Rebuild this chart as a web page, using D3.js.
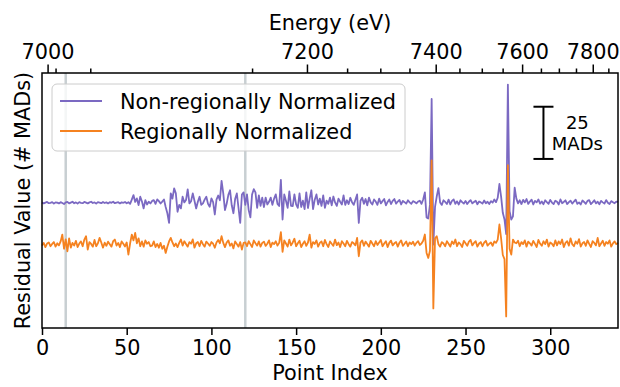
<!DOCTYPE html>
<html>
<head>
<meta charset="utf-8">
<script src="https://cdn.jsdelivr.net/npm/d3@7"></script>
<style>
  body { margin: 0; background: #fff; }
  text { font-family: "DejaVu Sans", sans-serif; fill: #000; }
</style>
</head>
<body>
<div id="chart"></div>
<script>
// residuals in MADs, one value per point index (0..340)
const nonRegional = [
  0.2, -0.3, 0.1, 0.4, -0.2, 0.0, 0.3, -0.4, 0.2, 0.1,
  -0.3, 0.3, -0.1, -0.6, 0.2, 0.4, -0.3, 0.1, 0.5, -0.2,
  0.2, -0.4, 0.3, 0.0, -0.2, 0.4, 0.1, -0.3, 0.2, 0.5,
  -0.1, 0.2, -0.4, 0.3, 0.1, -0.2, 0.4, -0.1, 0.2, -0.3,
  0.3, 0.0, 0.5, -0.2, 0.1, 0.3, -0.3, 0.2, 0.0, 0.4,
  -0.2, 0.3, -0.5, 1.5, 3.7, 0.4, 2.1, -1.1, 2.9, 0.6,
  -2.7, 1.3, -0.8, 0.5, -0.3, 0.9, 1.3, -0.5, 1.6, 0.8,
  -0.3, 0.6, 1.6, -2.0, -5.0, -9.6, 4.5, 2.0, 6.9, 4.5,
  -4.3, -1.0, -2.7, 2.9, 0.2, 1.3, 6.4, -0.3, 0.8, 4.5,
  1.0, -2.7, 0.5, 2.9, -1.0, -0.3, 1.5, 2.9, -0.5, -1.9,
  2.1, 0.3, -5.6, 1.5, 3.5, 1.2, 10.5, 4.5, -3.5, -0.5,
  3.8, 6.0, -1.2, -5.0, 1.8, 4.5, -2.5, -9.6, 4.0, 5.0,
  -1.0, 4.0, -3.5, -7.0, 4.0, 6.5, 5.0, -2.4, 3.5, -1.5,
  2.5, -2.0, 2.5, -0.8, 0.5, 2.5, -1.0, 2.0, 4.0, -0.5,
  -1.5, 11.0, -8.0, 4.0, 1.0, -2.4, 5.5, -1.5, -1.6, 4.0,
  -0.8, -2.4, 4.5, -2.0, 1.0, -3.0, 5.0, -2.5, 2.0, 6.0,
  -3.0, 1.5, 4.0, -0.8, 2.0, -1.5, 3.5, -2.4, 1.0, -0.5,
  2.5, -1.2, 3.0, 0.2, -1.5, 2.0, 0.5, -0.8, 3.5, -1.0,
  1.2, -0.6, 2.4, 0.3, -1.0, 1.5, 4.0, -9.6, 1.0, 2.4,
  -0.5, 1.8, -1.2, 2.5, 0.2, -0.8, 1.6, 0.6, -1.0, 2.0,
  -0.3, 0.8, 1.8, -1.2, 0.4, 1.6, -0.6, 0.9, 1.8, -0.4,
  0.6, 1.4, -0.8, 0.9, 0.3, -0.4, 1.2, 0.2, -0.5, 0.8,
  0.4, -0.3, 0.6, 1.0, -0.5, 1.6, 5.0, -7.0, -7.5, -1.0,
  49.7, -20.0, -2.0, 3.0, 7.0, 0.2, -1.0, 1.2, 0.4, -0.6,
  1.5, -0.8, 0.9, 1.6, -0.5, 0.7, -0.8, 1.2, 0.3, -0.4,
  0.9, -0.6, 0.5, 1.3, -0.3, 0.4, 1.0, -0.7, 0.6, 0.2,
  -0.4, 1.1, -0.2, 0.5, -0.6, 0.8, 0.1, 1.6, 0.3, 2.4,
  9.0, 3.0, -4.8, -8.0, -15.0, 56.6, -4.0, -8.0, -6.5, 7.2,
  2.0, -0.3, 1.2, -0.6, 1.4, 0.2, 1.8, -0.5, 0.6, 1.5,
  -0.8, 0.9, 0.2, 1.6, -0.4, 0.6, -0.7, 1.2, 0.3, -0.5,
  1.4, 0.1, -0.6, 1.0, 0.5, -0.8, 1.6, -0.2, 0.4, 1.2,
  -0.6, 0.3, 1.0, -0.4, 0.6, 1.5, -0.5, 0.2, -0.8, 1.1,
  0.4, -0.5, 0.9, 1.3, -0.6, 0.2, 1.2, -0.3, 0.5, -0.7,
  0.9, 0.2, -0.4, 1.3, 0.0, -0.6, 0.8, 0.3, -0.2, 0.6,
  0.4
];
const regional = [
  -0.5, 0.8, -1.2, 0.5, 1.0, -0.8, 0.3, 1.2, -1.0, 0.6,
  -0.4, 1.5, 4.8, -2.0, 2.5, -3.2, 3.0, -1.5, 0.8, -0.5,
  1.8, -1.2, 0.5, 1.5, -0.8, 2.4, 4.0, -2.4, 1.2, 0.3,
  -1.0, 2.2, -0.8, 0.6, 3.2, 1.0, -1.5, 0.9, -0.6, 1.4,
  0.2, -1.0, 1.6, 2.4, -0.5, 0.8, -1.2, 1.5, 0.4, -0.9,
  1.0, -4.8, 0.5, 4.8, 2.0, 5.6, 0.6, 3.0, -0.8, 1.5,
  -1.0, 2.0, 0.4, 1.2, -0.8, -0.5, 1.5, -1.2, 0.3, -1.5,
  0.8, -2.0, -0.6, -4.0, -1.0, 1.5, 3.2, 1.0, -0.8, 0.5,
  -1.2, 0.8, 2.4, -0.5, 1.6, 0.3, -1.0, 1.2, 0.4, 2.5,
  -1.5, 0.6, 1.2, -0.8, 1.8, 0.2, -1.0, 1.4, 0.5, -0.6,
  1.2, 0.4, -1.5, 1.0, 2.2, 0.6, 4.0, 0.8, -1.2, 1.0,
  2.0, -0.6, 0.5, -1.8, 1.5, 0.3, -1.0, 1.2, -2.4, 0.8,
  1.0, -0.8, 1.6, 0.2, -1.2, 2.0, 0.6, -0.5, 1.5, -1.0,
  0.8, 1.4, -0.6, 0.4, 2.0, -1.2, 0.9, 0.2, 1.6, -0.5,
  0.8, 6.0, -3.5, 2.0, 0.5, -1.0, 2.4, -0.4, 1.0, 2.8,
  -0.8, 0.6, 1.8, -1.2, 0.4, 1.6, -0.6, 1.0, 4.8, -1.5,
  1.2, 0.3, 2.0, -1.0, 0.8, 1.5, -0.8, 2.2, 0.2, -1.2,
  1.5, 0.4, -0.6, 2.4, -0.3, 1.0, -1.2, 1.6, 0.5, -0.8,
  1.8, 0.2, -1.0, 1.2, 0.6, -0.4, 3.2, -5.6, 1.0, 2.0,
  -0.6, 1.4, 0.3, -1.0, 1.8, 0.5, -0.8, 1.6, -0.2, 1.0,
  2.2, -0.8, 0.5, 1.6, -1.2, 0.8, 1.9, -0.4, 0.6, 1.2,
  -1.0, 0.9, 2.0, -0.6, 0.4, 1.5, -0.8, 1.0, 0.2, 1.4,
  -0.5, 0.8, 1.6, -0.2, 0.5, 1.8, 4.8, -4.0, -6.4, -3.0,
  40.3, -30.6, 3.0, 4.0, 0.2, -1.0, 1.2, 0.5, -0.8, 1.6,
  0.4, -1.0, 1.5, 0.3, 2.4, -0.8, 1.0, 0.2, -1.2, 1.8,
  0.6, -0.6, 1.4, 2.2, -0.4, 0.8, 1.6, -1.0, 0.5, 1.2,
  -0.8, 0.9, 1.8, -0.5, 0.4, 1.0, -0.6, 1.5, 0.8, 2.4,
  9.6, 3.0, -5.0, -7.0, -34.4, 38.0, -2.0, -4.8, 2.4, 1.0,
  0.6, 1.8, -0.8, 1.2, 0.2, 2.0, -1.0, 1.4, 0.6, -0.5,
  1.8, 0.3, -1.2, 2.2, 0.5, -0.6, 1.6, 0.2, 2.4, -1.0,
  1.0, 0.4, -0.8, 2.0, -0.4, 1.5, 0.3, 2.4, -1.2, 0.8,
  1.6, -0.5, 3.0, 0.2, -0.8, 1.5, 0.4, 2.6, -1.0, 0.6,
  1.2, -0.6, 2.0, 0.3, -1.2, 1.6, 0.8, -0.4, 3.2, -0.8,
  0.5, 1.8, -0.6, 1.2, 0.4, 2.0, -1.0, 0.6, 1.5, 0.2,
  0.8
];
const seriesNames = ['Non-regionally Normalized', 'Regionally Normalized'];

// region boundaries (point index)
const regionEdges = [14, 120];

// energy grid: energy (eV) at given point index
const energyKnotsEv = [6965, 7000, 7050, 7100, 7150, 7200, 7250, 7300, 7350, 7400, 7450, 7500, 7550, 7600, 7650, 7700, 7750, 7800, 7850, 7881];
const energyKnotsIdx = [0, 3.3, 8.0, 28.5, 124, 156.4, 180.1, 199.7, 216.9, 232.4, 246.4, 259.6, 271.9, 283.4, 294.5, 305.1, 315.2, 325.1, 334.3, 340];
const energyMajor = [7000, 7200, 7400, 7600, 7800];
const energyMinor = [7050, 7100, 7150, 7250, 7300, 7350, 7450, 7500, 7550, 7650, 7700, 7750, 7850];
const indexTicks = [0, 50, 100, 150, 200, 250, 300];
const scaleBarMads = 25;

const width = 620, height = 387;
const margin = { top: 73, right: 2, bottom: 59, left: 42 };
const stackOffset = 20;
const fontSize = '20.8px';
const purple = '#7b69c2', orange = '#f58220';

const svg = d3.select('#chart').append('svg')
  .attr('width', width)
  .attr('height', height);

const x = d3.scaleLinear().domain([0, 340]).range([margin.left, width - margin.right]);

const lo = d3.min(regional), hi = d3.max(nonRegional) + stackOffset;
const pad = (hi - lo) * 0.05;
const y = d3.scaleLinear().domain([lo - pad, hi + pad]).range([height - margin.bottom, margin.top]);

const energyX = d3.scaleLinear().domain(energyKnotsEv).range(energyKnotsIdx.map(d => x(d)));

// region boundary lines
svg.selectAll('line.edge')
  .data(regionEdges)
  .enter().append('line')
  .attr('x1', d => x(d)).attr('x2', d => x(d))
  .attr('y1', margin.top).attr('y2', height - margin.bottom)
  .attr('stroke', '#c8cfd2')
  .attr('stroke-width', 2.5);

const line = d3.line().x((d, i) => x(i));

svg.append('path')
  .datum(nonRegional)
  .attr('fill', 'none')
  .attr('stroke', purple)
  .attr('stroke-width', 1.8)
  .attr('stroke-linejoin', 'round')
  .attr('d', line.y(d => y(d + stackOffset)));

svg.append('path')
  .datum(regional)
  .attr('fill', 'none')
  .attr('stroke', orange)
  .attr('stroke-width', 1.8)
  .attr('stroke-linejoin', 'round')
  .attr('d', line.y(d => y(d)));

// frame
svg.append('rect')
  .attr('x', margin.left).attr('y', margin.top)
  .attr('width', width - margin.left - margin.right)
  .attr('height', height - margin.top - margin.bottom)
  .attr('fill', 'none')
  .attr('stroke', '#000')
  .attr('stroke-width', 1.5);

// bottom axis
const bottom = svg.append('g')
  .attr('transform', 'translate(0,' + (height - margin.bottom) + ')')
  .call(d3.axisBottom(x).tickValues(indexTicks).tickSize(7).tickPadding(5));

// top axis, major + minor
const topMinor = svg.append('g')
  .attr('transform', 'translate(0,' + margin.top + ')')
  .call(d3.axisTop(energyX).tickValues(energyMinor).tickSize(4.5).tickFormat(''));
const topMajor = svg.append('g')
  .attr('transform', 'translate(0,' + margin.top + ')')
  .call(d3.axisTop(energyX).tickValues(energyMajor).tickSize(8.5).tickPadding(6).tickFormat(d3.format('d')));

[bottom, topMinor, topMajor].forEach(g => {
  g.select('.domain').remove();
  g.selectAll('.tick line').attr('stroke', '#000').attr('stroke-width', 1.5);
  g.selectAll('.tick text').style('font-size', fontSize).style('font-family', 'DejaVu Sans');
});

svg.append('text')
  .attr('x', (margin.left + width - margin.right) / 2)
  .attr('y', 380)
  .attr('text-anchor', 'middle')
  .style('font-size', fontSize)
  .text('Point Index');

svg.append('text')
  .attr('x', (margin.left + width - margin.right) / 2)
  .attr('y', 30)
  .attr('text-anchor', 'middle')
  .style('font-size', fontSize)
  .text('Energy (eV)');

svg.append('text')
  .attr('transform', 'translate(30,' + (margin.top + height - margin.bottom) / 2 + ') rotate(-90)')
  .attr('text-anchor', 'middle')
  .style('font-size', fontSize)
  .text('Residual Value (# MADs)');

// legend
const lg = svg.append('g').attr('transform', 'translate(52,84)');
lg.append('rect')
  .attr('width', 353).attr('height', 67).attr('rx', 5)
  .attr('fill', '#fff').attr('fill-opacity', 0.8)
  .attr('stroke', '#ccc');
lg.selectAll('g.item')
  .data(seriesNames)
  .enter().append('g')
  .attr('transform', (d, i) => 'translate(0,' + (17 + i * 30) + ')')
  .each(function (d, i) {
    const g = d3.select(this);
    g.append('line').attr('x1', 8).attr('x2', 50)
      .attr('stroke', i === 0 ? purple : orange).attr('stroke-width', 1.8);
    g.append('text').attr('x', 68).attr('y', 7.5)
      .style('font-size', fontSize).text(d);
  });

// 25 MAD scale bar
const barX = x(296), barLo = 41;
const bar = svg.append('g').attr('stroke', '#000').attr('stroke-width', 2);
bar.append('line').attr('x1', barX).attr('x2', barX).attr('y1', y(barLo)).attr('y2', y(barLo + scaleBarMads));
[barLo, barLo + scaleBarMads].forEach(v => {
  bar.append('line').attr('x1', barX - 10).attr('x2', barX + 10).attr('y1', y(v)).attr('y2', y(v));
});
svg.append('text').attr('x', x(316)).attr('y', 128.5).attr('text-anchor', 'middle')
  .style('font-size', '18px').text(scaleBarMads);
svg.append('text').attr('x', x(316)).attr('y', 150).attr('text-anchor', 'middle')
  .style('font-size', '18px').text('MADs');
</script>
</body>
</html>
